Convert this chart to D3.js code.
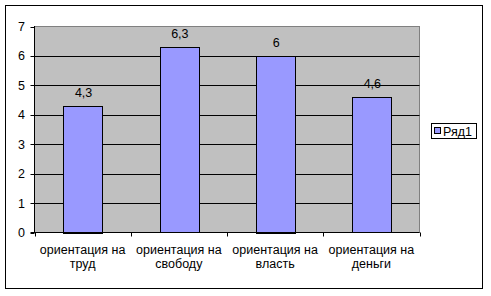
<!DOCTYPE html>
<html><head><meta charset="utf-8">
<script src="https://cdn.jsdelivr.net/npm/d3@7"></script>
<style>body{margin:0;background:#fff}svg{display:block}text{font-family:"Liberation Sans",Arial,sans-serif;font-size:12.5px;fill:#000}</style>
</head><body><svg id="c" width="491" height="296"></svg>
<script>
const categories = [["ориентация на","труд"],["ориентация на","свободу"],["ориентация на","власть"],["ориентация на","деньги"]];
const values = [4.3, 6.3, 6, 4.6];
const valueLabels = ["4,3","6,3","6","4,6"];
const yTicks = [0,1,2,3,4,5,6,7];
const seriesName = "Ряд1";

const svg = d3.select("#c");
const L = 34.5, R = 419.5, T = 26.5, B = 232.5;
svg.append("rect").attr("x",5.5).attr("y",5.5).attr("width",477).attr("height",283).attr("fill","#fff").attr("stroke","#000");

const x = d3.scaleBand().domain(d3.range(categories.length)).range([L,R]).paddingInner(0).paddingOuter(0);
const y = d3.scaleLinear().domain([0,7]).range([B,T]);

svg.append("rect").attr("x",L).attr("y",T).attr("width",R-L).attr("height",B-T).attr("fill","#C0C0C0").attr("stroke","#808080");

svg.append("g").selectAll("line").data(yTicks.filter(d=>d>0 && d<7)).join("line")
  .attr("x1",L).attr("x2",R).attr("y1",d=>Math.round(y(d))+0.5).attr("y2",d=>Math.round(y(d))+0.5).attr("stroke","#000");

const bw = x.bandwidth()*0.4;
svg.append("g").selectAll("rect").data(values).join("rect")
  .attr("x",(d,i)=>Math.round(x(i)+x.bandwidth()/2-bw/2)+0.5)
  .attr("y",d=>Math.round(y(d))+0.5)
  .attr("width",Math.round(bw))
  .attr("height",d=>Math.round(B-y(d)))
  .attr("fill","#9999FF").attr("stroke","#000");

svg.append("g").selectAll("text").data(values).join("text")
  .attr("x",(d,i)=>x(i)+x.bandwidth()/2+1).attr("y",d=>y(d)-9)
  .attr("text-anchor","middle").text((d,i)=>valueLabels[i]);

// axes
svg.append("line").attr("x1",L).attr("x2",L).attr("y1",T-0.5).attr("y2",B).attr("stroke","#000");
svg.append("line").attr("x1",L-4).attr("x2",R).attr("y1",B).attr("y2",B).attr("stroke","#000");
svg.append("g").selectAll("line").data(yTicks).join("line")
  .attr("x1",L-4).attr("x2",L).attr("y1",d=>Math.round(y(d))+0.5).attr("y2",d=>Math.round(y(d))+0.5).attr("stroke","#000");
svg.append("g").selectAll("text").data(yTicks).join("text")
  .attr("x",25).attr("y",d=>y(d)+4.5).attr("text-anchor","end").text(d=>d);
const bounds = d3.range(categories.length+1).map(i=> i<categories.length ? x(i) : R);
svg.append("g").selectAll("line").data(bounds).join("line")
  .attr("x1",d=>Math.round(d)+0.5).attr("x2",d=>Math.round(d)+0.5).attr("y1",B).attr("y2",B+4).attr("stroke","#000");
const cl = svg.append("g").selectAll("text").data(categories).join("text")
  .attr("text-anchor","middle");
cl.each(function(d,i){
  const t=d3.select(this);
  d.forEach((s,j)=>t.append("tspan").attr("x",x(i)+x.bandwidth()/2).attr("y",254+j*14).text(s));
});

// legend
svg.append("rect").attr("x",431.5).attr("y",123.5).attr("width",45).attr("height",15).attr("fill","#fff").attr("stroke","#000");
svg.append("rect").attr("x",434.5).attr("y",127.5).attr("width",6).attr("height",6).attr("fill","#9999FF").attr("stroke","#000");
svg.append("text").attr("x",443).attr("y",135.5).text(seriesName);
</script></body></html>
